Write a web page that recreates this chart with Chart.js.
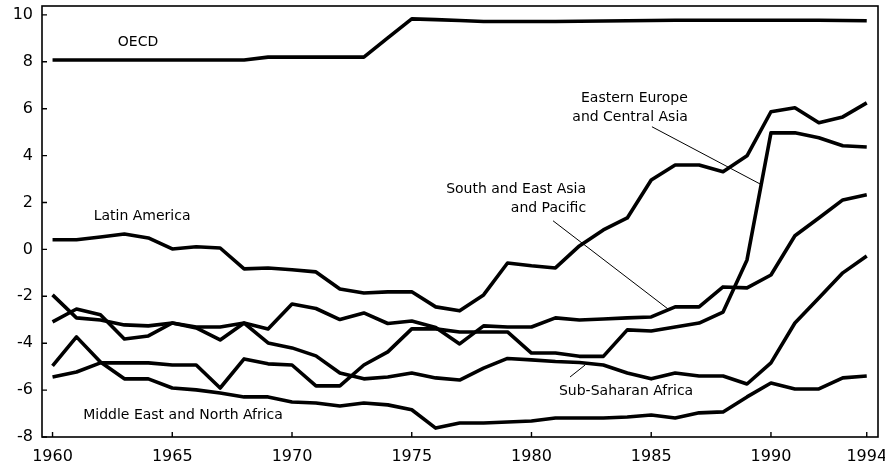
<!DOCTYPE html>
<html><head><meta charset="utf-8">
<script src="https://cdn.jsdelivr.net/npm/chart.js@4/dist/chart.umd.min.js"></script>
<style>html,body{margin:0;padding:0;background:#fff;}#wrap{width:885px;height:468px;position:relative;}</style>
</head><body><div id="wrap"><canvas id="c"></canvas></div>
<script>
const years = [1960,1961,1962,1963,1964,1965,1966,1967,1968,1969,1970,1971,1972,1973,1974,1975,1976,1977,1978,1979,1980,1981,1982,1983,1984,1985,1986,1987,1988,1989,1990,1991,1992,1993,1994];
const oecd = [8.08,8.08,8.08,8.08,8.08,8.08,8.08,8.08,8.08,8.2,8.2,8.2,8.2,8.2,9.02,9.83,9.8,9.76,9.72,9.72,9.72,9.72,9.73,9.74,9.75,9.76,9.77,9.77,9.77,9.77,9.77,9.77,9.77,9.76,9.75];
const latinAmerica = [0.41,0.41,0.53,0.66,0.49,0.02,0.11,0.06,-0.83,-0.79,-0.87,-0.96,-1.69,-1.86,-1.81,-1.81,-2.45,-2.62,-1.94,-0.58,-0.70,-0.79,0.15,0.83,1.34,2.96,3.6,3.6,3.31,3.99,5.87,6.04,5.4,5.65,6.25];
const southEastAsiaPacific = [-1.94,-2.92,-3.01,-3.22,-3.26,-3.14,-3.31,-3.31,-3.14,-3.39,-2.33,-2.52,-2.99,-2.71,-3.16,-3.05,-3.33,-4.03,-3.26,-3.31,-3.31,-2.92,-3.01,-2.97,-2.92,-2.88,-2.45,-2.45,-1.6,-1.64,-1.09,0.58,1.34,2.11,2.33];
const subSaharanAfrica = [-3.09,-2.54,-2.79,-3.82,-3.69,-3.14,-3.35,-3.86,-3.14,-3.99,-4.2,-4.54,-5.27,-5.52,-5.44,-5.27,-5.48,-5.57,-5.06,-4.65,-4.71,-4.78,-4.82,-4.93,-5.27,-5.52,-5.27,-5.4,-5.4,-5.74,-4.84,-3.14,-2.07,-1.0,-0.28];
const middleEastNorthAfrica = [-4.97,-3.73,-4.8,-5.52,-5.52,-5.91,-5.99,-6.12,-6.29,-6.29,-6.51,-6.55,-6.68,-6.55,-6.63,-6.84,-7.62,-7.4,-7.4,-7.36,-7.32,-7.19,-7.19,-7.19,-7.15,-7.06,-7.19,-6.97,-6.93,-6.29,-5.7,-5.95,-5.95,-5.48,-5.4];
const easternEuropeCentralAsia = [-5.44,-5.23,-4.84,-4.84,-4.84,-4.93,-4.93,-5.91,-4.67,-4.88,-4.93,-5.82,-5.82,-4.93,-4.37,-3.39,-3.39,-3.52,-3.52,-3.52,-4.42,-4.42,-4.56,-4.56,-3.43,-3.48,-3.31,-3.14,-2.67,-0.45,4.97,4.97,4.76,4.42,4.37];
const xTickYears = [1960,1965,1970,1975,1980,1985,1990,1994];
const yTickValues = [-8,-6,-4,-2,0,2,4,6,8,10];
const seriesNames = ['OECD','Latin America','South and East Asia and Pacific','Sub-Saharan Africa','Middle East and North Africa','Eastern Europe and Central Asia'];
const seriesValues = [oecd, latinAmerica, southEastAsiaPacific, subSaharanAfrica, middleEastNorthAfrica, easternEuropeCentralAsia];

// annotation texts placed in data units
const labelNotes = [
  {lines:['OECD'], x:1963.57, y:8.81, align:'center'},
  {lines:['Latin America'], x:1963.74, y:1.39, align:'center'},
  {lines:['Middle East and North Africa'], x:1965.45, y:-7.06, align:'center'},
  {lines:['Sub-Saharan Africa'], x:1983.95, y:-6.04, align:'center'},
  {lines:['Eastern Europe','and Central Asia'], x:1986.53, y:6.46, align:'right'},
  {lines:['South and East Asia','and Pacific'], x:1982.28, y:2.54, align:'right'}
];
const leaderLines = [
  [1985.03, 5.23, 1989.62, 2.75],
  [1980.90, 1.22, 1985.70, -2.54],
  [1981.61, -5.44, 1982.24, -4.93]
];

const decor = {
  id:'decor',
  afterDatasetsDraw(chart){
    const {ctx, chartArea:a, scales:{x, y}} = chart;
    ctx.save();
    ctx.strokeStyle = '#000';
    ctx.lineWidth = 1.6;
    ctx.strokeRect(a.left, a.top, a.right - a.left, a.bottom - a.top);
    ctx.lineWidth = 1.4;
    ctx.beginPath();
    xTickYears.forEach(v => { const px = x.getPixelForValue(v); ctx.moveTo(px, a.bottom); ctx.lineTo(px, a.bottom - 5); });
    yTickValues.forEach(v => { const py = y.getPixelForValue(v); ctx.moveTo(a.left, py); ctx.lineTo(a.left + 5, py); });
    ctx.stroke();
    ctx.lineWidth = 1;
    ctx.beginPath();
    leaderLines.forEach(l => {
      ctx.moveTo(x.getPixelForValue(l[0]), y.getPixelForValue(l[1]));
      ctx.lineTo(x.getPixelForValue(l[2]), y.getPixelForValue(l[3]));
    });
    ctx.stroke();
    ctx.fillStyle = '#000';
    ctx.font = "14px 'DejaVu Sans'";
    ctx.textBaseline = 'middle';
    labelNotes.forEach(n => {
      ctx.textAlign = n.align;
      const px = x.getPixelForValue(n.x);
      const py = y.getPixelForValue(n.y);
      n.lines.forEach((t, i) => ctx.fillText(t, px, py + i * 19));
    });
    ctx.restore();
  }
};

new Chart(document.getElementById('c'), {
  type:'line',
  data:{
    datasets: seriesNames.map((name, i) => ({
      label: name,
      data: years.map((yr, j) => ({x: yr, y: seriesValues[i][j]})),
      borderColor:'#000',
      borderWidth: 3.6,
      pointRadius: 0,
      tension: 0,
      fill: false,
      borderJoinStyle: 'round'
    }))
  },
  options:{
    responsive:true,
    maintainAspectRatio:false,
    animation:false,
    layout:{padding:{top:6, right:7, left:0, bottom:0}},
    plugins:{legend:{display:false}, tooltip:{enabled:false}},
    scales:{
      x:{
        type:'linear', min:1959.56, max:1994.47,
        grid:{display:false, drawTicks:false},
        border:{display:false},
        afterBuildTicks(s){ s.ticks = xTickYears.map(v => ({value:v})); },
        afterFit(s){ s.height = 31; s.paddingLeft = 0; s.paddingRight = 0; },
        ticks:{padding:10, color:'#000', font:{family:'DejaVu Sans', size:16}, maxRotation:0, autoSkip:false, callback:v => String(v)}
      },
      y:{
        type:'linear', min:-8, max:10.38,
        grid:{display:false, drawTicks:false},
        border:{display:false},
        afterBuildTicks(s){ s.ticks = yTickValues.map(v => ({value:v})); },
        afterFit(s){ s.width = 42; s.paddingTop = 0; s.paddingBottom = 0; },
        ticks:{padding:9, color:'#000', font:{family:'DejaVu Sans', size:16}, callback:v => String(v)}
      }
    }
  },
  plugins:[decor]
});
</script></body></html>
